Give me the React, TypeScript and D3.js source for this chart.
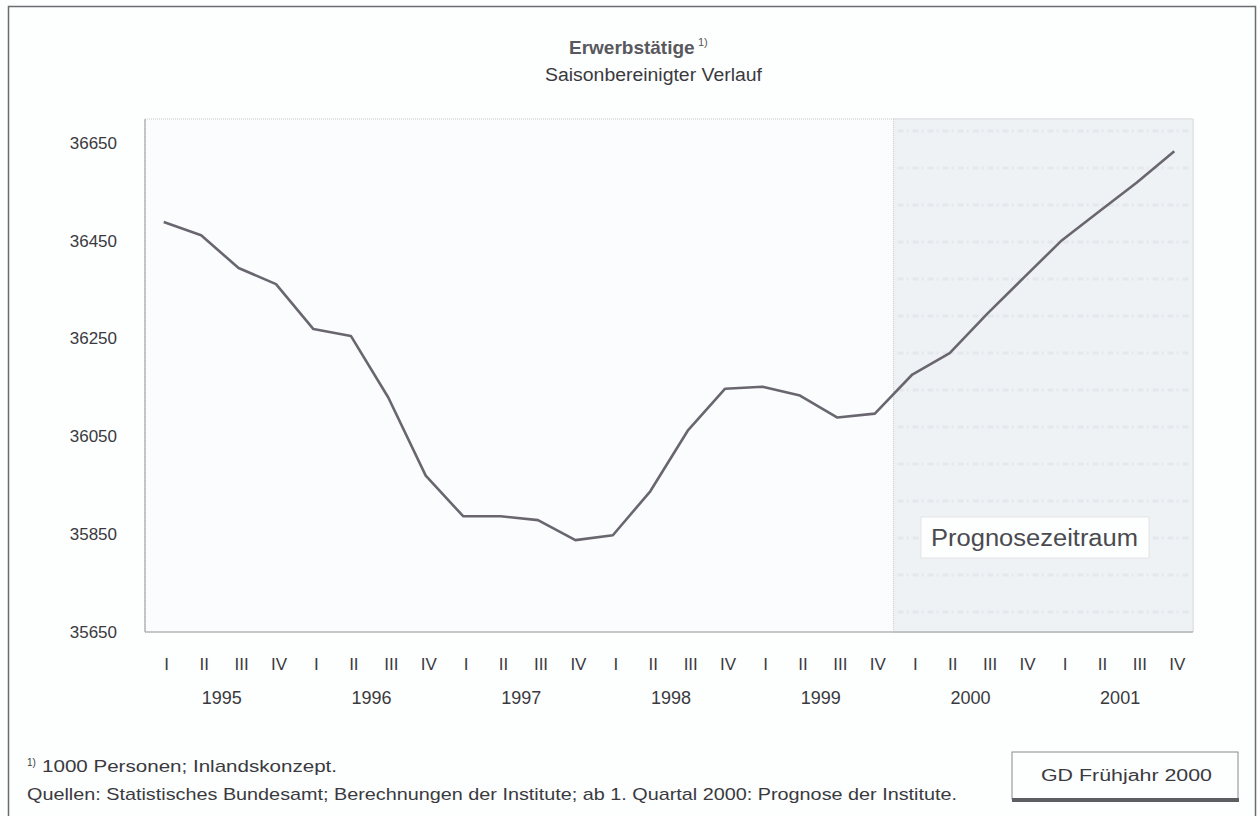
import React from "react";
import * as d3 from "d3";

const years = ["1995", "1996", "1997", "1998", "1999", "2000", "2001"];
const quarters = ["I", "II", "III", "IV"];
// Erwerbstätige in 1000 Personen, saisonbereinigt, quarterly
const values = [
  36489, 36462, 36395, 36362,
  36270, 36256, 36130, 35970,
  35887, 35887, 35879, 35838,
  35848, 35938, 36062, 36148,
  36152, 36134, 36089, 36097,
  36177, 36221, 36301, 36377,
  36452, 36511, 36570, 36634,
];
const yTicks = [35650, 35850, 36050, 36250, 36450, 36650];
const forecastStart = "2000-I";

const W = 1258;
const H = 816;
const PLOT = { left: 145, right: 1193, top: 119, bottom: 632 };
const FONT = "'Liberation Sans', Arial, Helvetica, sans-serif";
const TEXT = "#3a3a3e";

const App = () => {
  const keys = years.flatMap((y) => quarters.map((q) => `${y}-${q}`));
  const data = keys.map((k, i) => ({ key: k, value: values[i] }));

  const x = d3.scaleBand<string>().domain(keys).range([PLOT.left, PLOT.right]);
  const cx = (k: string) => (x(k) ?? 0) + x.bandwidth() / 2;
  const y = d3.scaleLinear().domain([35650, 36700]).range([PLOT.bottom, PLOT.top]);

  const line = d3
    .line<{ key: string; value: number }>()
    .x((d) => cx(d.key))
    .y((d) => y(d.value));

  const fx = x(forecastStart) ?? 0;

  return (
    <svg
      width={W}
      height={H}
      style={{ position: "absolute", left: 0, top: 0, background: "#fdfefe" }}
      fontFamily={FONT}
    >
      <rect x={0} y={0} width={W} height={H} fill="#fdfefe" />
      {/* page frame */}
      <rect x={8.5} y={6.5} width={1247} height={840} fill="none" stroke="#6b6b70" strokeWidth={1.5} />

      {/* title */}
      <text x={569} y={54} fontSize={19} fontWeight="bold" fill="#58585d">
        Erwerbstätige
      </text>
      <text x={698} y={46} fontSize={11} fill="#58585d">1)</text>
      <text x={545} y={81} fontSize={18} fill={TEXT} textLength={217} lengthAdjust="spacingAndGlyphs">
        Saisonbereinigter Verlauf
      </text>

      {/* plot area */}
      <rect
        x={PLOT.left}
        y={PLOT.top}
        width={PLOT.right - PLOT.left}
        height={PLOT.bottom - PLOT.top}
        fill="#fbfcfd"
        stroke="#c4c6ca"
        strokeDasharray="1 1"
      />
      <rect
        x={fx}
        y={PLOT.top}
        width={PLOT.right - fx}
        height={PLOT.bottom - PLOT.top}
        fill="#eff2f5"
        stroke="#c8cacd"
        strokeDasharray="1 1"
      />
      {/* faint scan texture rows in forecast area */}
      {d3.range(PLOT.top + 12, PLOT.bottom, 37).map((yy) => (
        <line
          key={yy}
          x1={fx + 4}
          x2={PLOT.right - 4}
          y1={yy}
          y2={yy}
          stroke="#e4e7eb"
          strokeWidth={3}
          strokeDasharray="6 3 2 4"
        />
      ))}
      <line x1={PLOT.left} x2={PLOT.left} y1={PLOT.top} y2={PLOT.bottom} stroke="#a8a9ad" strokeWidth={1.2} />
      <line x1={PLOT.left} x2={PLOT.right} y1={PLOT.bottom} y2={PLOT.bottom} stroke="#9c9da1" strokeWidth={1.2} />

      {/* forecast label */}
      <rect x={921} y={517} width={228} height={41} fill="#fdfefe" stroke="#d6d8db" strokeWidth={0.6} />
      <text
        x={931}
        y={546}
        fontSize={23}
        fill="#4a4a50"
        textLength={207}
        lengthAdjust="spacingAndGlyphs"
      >
        Prognosezeitraum
      </text>

      {/* series */}
      <path d={line(data) ?? ""} fill="none" stroke="#6a6670" strokeWidth={2.6} strokeLinejoin="round" />

      {/* y axis labels */}
      {yTicks.map((t) => (
        <text key={t} x={117} y={y(t)} textAnchor="end" dominantBaseline="central" fontSize={17} fill={TEXT}>
          {t}
        </text>
      ))}

      {/* x axis labels */}
      {keys.map((k) => (
        <text key={k} x={cx(k) + 3} y={670} textAnchor="middle" fontSize={17} fill={TEXT}>
          {k.split("-")[1]}
        </text>
      ))}
      {years.map((yr) => {
        const a = cx(`${yr}-II`);
        const b = cx(`${yr}-III`);
        return (
          <text key={yr} x={(a + b) / 2 + 2} y={704} textAnchor="middle" fontSize={18} fill={TEXT}>
            {yr}
          </text>
        );
      })}

      {/* footnotes */}
      <text x={27} y={766} fontSize={10} fill={TEXT}>1)</text>
      <text x={42} y={772} fontSize={17} fill={TEXT} textLength={295} lengthAdjust="spacingAndGlyphs">
        1000 Personen; Inlandskonzept.
      </text>
      <text x={27} y={800} fontSize={17} fill={TEXT} textLength={930} lengthAdjust="spacingAndGlyphs">
        Quellen: Statistisches Bundesamt; Berechnungen der Institute; ab 1. Quartal 2000: Prognose der Institute.
      </text>

      {/* GD box */}
      <rect x={1012} y={752} width={226} height={47} fill="#fdfefe" stroke="#8a8a8e" strokeWidth={1} />
      <line x1={1012} x2={1239} y1={800} y2={800} stroke="#5e5e62" strokeWidth={4} />
      <text
        x={1041}
        y={781}
        fontSize={16}
        fill={TEXT}
        textLength={171}
        lengthAdjust="spacingAndGlyphs"
      >
        GD Frühjahr 2000
      </text>
    </svg>
  );
};

export default App;
